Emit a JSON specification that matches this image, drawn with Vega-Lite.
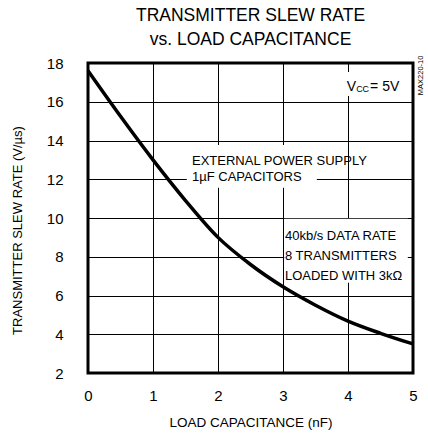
{
  "$schema": "https://vega.github.io/schema/vega-lite/v6.json",
  "width": 325,
  "height": 310,
  "autosize": {"type": "none"},
  "padding": {"left": 88, "top": 63, "right": 15, "bottom": 62},
  "background": "white",
  "title": {
    "text": ["TRANSMITTER SLEW RATE", "vs. LOAD CAPACITANCE"],
    "font": "Liberation Sans",
    "fontSize": 17.5,
    "fontWeight": "normal",
    "lineHeight": 24,
    "offset": 7,
    "anchor": "middle",
    "color": "black"
  },
  "config": {
    "view": {"stroke": "black", "strokeWidth": 3},
    "axis": {
      "grid": true,
      "gridColor": "black",
      "gridOpacity": 1,
      "gridWidth": 1,
      "domain": false,
      "ticks": false,
      "tickSize": 0,
      "labelFont": "Liberation Sans",
      "labelFontSize": 15,
      "labelColor": "black",
      "labelFlush": false,
      "labelOverlap": false,
      "titleFont": "Liberation Sans",
      "titleFontWeight": "normal",
      "titleColor": "black"
    }
  },
  "datasets": {
    "curve": [
      {"x": 0, "y": 17.6},
      {"x": 0.5, "y": 15.25},
      {"x": 1, "y": 13.0},
      {"x": 1.5, "y": 10.9},
      {"x": 2, "y": 9.0},
      {"x": 2.5, "y": 7.6},
      {"x": 3, "y": 6.45},
      {"x": 3.5, "y": 5.5},
      {"x": 4, "y": 4.68},
      {"x": 4.5, "y": 4.05},
      {"x": 5, "y": 3.5}
    ],
    "boxes": [
      {"x1": 1.52, "x2": 3.52, "y1": 13.77, "y2": 11.56},
      {"x1": 3.02, "x2": 4.92, "y1": 9.96, "y2": 6.66},
      {"x1": 3.93, "x2": 4.95, "y1": 17.54, "y2": 16.3}
    ],
    "notes": [
      {"x": 1.6, "y": 12.95, "text": "EXTERNAL POWER SUPPLY"},
      {"x": 1.6, "y": 12.1, "text": "1µF CAPACITORS"},
      {"x": 3.03, "y": 9.08, "text": "40kb/s DATA RATE"},
      {"x": 3.03, "y": 8.05, "text": "8 TRANSMITTERS"},
      {"x": 3.03, "y": 7.02, "text": "LOADED WITH 3kΩ"}
    ],
    "vcc": [
      {"x": 3.98, "y": 16.56, "text": "V", "part": "main"},
      {"x": 4.125, "y": 16.48, "text": "CC", "part": "sub"},
      {"x": 4.34, "y": 16.56, "text": "= 5V", "part": "main"}
    ],
    "code": [
      {"x": 5.12, "y": 17.36, "text": "MAX220-10"}
    ]
  },
  "layer": [
    {
      "data": {"name": "boxes"},
      "mark": {"type": "rect", "fill": "white", "stroke": null},
      "encoding": {
        "x": {
          "field": "x1",
          "type": "quantitative",
          "scale": {"domain": [0, 5], "nice": false, "zero": false},
          "axis": {
            "title": "LOAD CAPACITANCE (nF)",
            "values": [0, 1, 2, 3, 4, 5],
            "tickCount": 10,
            "format": "d",
            "labelOverlap": false,
            "labelPadding": 15,
            "titleFontSize": 13.5,
            "titlePadding": 12
          }
        },
        "x2": {"field": "x2"},
        "y": {
          "field": "y1",
          "type": "quantitative",
          "scale": {"domain": [2, 18], "nice": false, "zero": false},
          "axis": {
            "title": "TRANSMITTER SLEW RATE (V/µs)",
            "values": [2, 4, 6, 8, 10, 12, 14, 16, 18],
            "tickCount": 20,
            "format": "d",
            "labelOverlap": false,
            "labelPadding": 25,
            "titleFontSize": 13,
            "titlePadding": 22,
            "titleY": 167
          }
        },
        "y2": {"field": "y2"}
      }
    },
    {
      "data": {"name": "notes"},
      "mark": {
        "type": "text",
        "align": "left",
        "baseline": "middle",
        "font": "Liberation Sans",
        "fontSize": 13,
        "color": "black"
      },
      "encoding": {
        "x": {"field": "x", "type": "quantitative"},
        "y": {"field": "y", "type": "quantitative"},
        "text": {"field": "text"}
      }
    },
    {
      "data": {"name": "vcc"},
      "transform": [{"filter": "datum.part === 'main'"}],
      "mark": {
        "type": "text",
        "align": "left",
        "baseline": "alphabetic",
        "font": "Liberation Sans",
        "fontSize": 14,
        "color": "black"
      },
      "encoding": {
        "x": {"field": "x", "type": "quantitative"},
        "y": {"field": "y", "type": "quantitative"},
        "text": {"field": "text"}
      }
    },
    {
      "data": {"name": "vcc"},
      "transform": [{"filter": "datum.part === 'sub'"}],
      "mark": {
        "type": "text",
        "align": "left",
        "baseline": "alphabetic",
        "font": "Liberation Sans",
        "fontSize": 9,
        "color": "black"
      },
      "encoding": {
        "x": {"field": "x", "type": "quantitative"},
        "y": {"field": "y", "type": "quantitative"},
        "text": {"field": "text"}
      }
    },
    {
      "data": {"name": "code"},
      "mark": {
        "type": "text",
        "align": "center",
        "baseline": "middle",
        "angle": 270,
        "font": "Liberation Sans",
        "fontSize": 7.5,
        "color": "black",
        "clip": false
      },
      "encoding": {
        "x": {"field": "x", "type": "quantitative"},
        "y": {"field": "y", "type": "quantitative"},
        "text": {"field": "text"}
      }
    },
    {
      "data": {"name": "curve"},
      "mark": {
        "type": "line",
        "color": "black",
        "strokeWidth": 3.5,
        "interpolate": "monotone"
      },
      "encoding": {
        "x": {"field": "x", "type": "quantitative"},
        "y": {"field": "y", "type": "quantitative"}
      }
    }
  ]
}
